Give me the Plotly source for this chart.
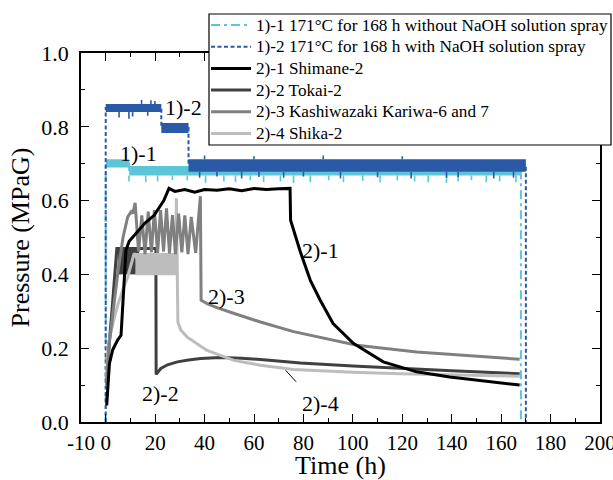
import plotly.graph_objects as go

FONT = "Liberation Serif"

# ---------------- data ----------------
# 1)-1 171°C for 168 h without NaOH solution spray (cyan, dash-dot)
t_11 = [0, 0, 9.5, 9.5, 168, 168]
p_11 = [0, 0.700, 0.700, 0.680, 0.680, 0]
band11_t = [0, 9.5, 9.5, 168]
band11_hi = [0.712, 0.712, 0.694, 0.694]
band11_lo = [0.690, 0.690, 0.668, 0.668]
spk11_t = [9.4, 16.2, 21, 27, 33, 40.4, 47.8, 52.5, 58.5, 63.9, 70.7, 76, 82.8, 90.2, 96.2,
           104, 111, 118, 125, 130.5, 137.9, 142.6, 148, 154, 159.4, 166]
spk11_tip = [0.652, 0.650, 0.652, 0.656, 0.655, 0.648, 0.652, 0.650, 0.655, 0.650, 0.652, 0.648, 0.650,
             0.655, 0.650, 0.653, 0.650, 0.655, 0.652, 0.650, 0.648, 0.652, 0.655, 0.650, 0.652, 0.650]

# 1)-2 171°C for 168 h with NaOH solution spray (blue, dashed)
t_12 = [0, 0, 22.5, 22.5, 33.5, 33.5, 170, 170]
p_12 = [0, 0.851, 0.851, 0.797, 0.797, 0.695, 0.695, 0]
band12_t = [0, 22.5, 22.5, 33.5, 33.5, 170]
band12_hi = [0.862, 0.862, 0.810, 0.810, 0.712, 0.712]
band12_lo = [0.840, 0.840, 0.783, 0.783, 0.678, 0.678]
spk12_t = [5.4, 9.4, 10.9, 17, 14.5, 18.3, 19.9,
           38, 45, 55, 62, 72, 80, 95, 110, 123.6, 137.9, 142.6, 157, 165, 40, 60, 88, 120]
spk12_from = [0.840, 0.840, 0.840, 0.840, 0.862, 0.862, 0.862,
              0.678, 0.678, 0.678, 0.678, 0.678, 0.678, 0.678, 0.678, 0.678, 0.678, 0.678, 0.678, 0.678,
              0.712, 0.712, 0.712, 0.712]
spk12_tip = [0.825, 0.822, 0.828, 0.830, 0.873, 0.872, 0.870,
             0.662, 0.665, 0.660, 0.664, 0.662, 0.665, 0.660, 0.663, 0.660, 0.662, 0.664, 0.660, 0.662,
             0.722, 0.720, 0.722, 0.720]

# 2)-1 Shimane-2 (black)
t_21 = [0.4, 1.5, 2.8, 4.8, 6.2, 6.9, 8.2, 9.5, 11.5, 13.5, 16, 19.6, 21, 23.5, 25.6, 28, 32, 36, 40,
        45, 50, 55, 60, 65, 70, 74.6, 74.8, 76, 78.8, 82.8, 86.8, 92, 100.2, 112.3, 125.8, 139.2,
        152.7, 167.5]
p_21 = [0.045, 0.158, 0.195, 0.222, 0.235, 0.312, 0.466, 0.490, 0.505, 0.520, 0.540, 0.560, 0.574,
        0.600, 0.633, 0.625, 0.630, 0.623, 0.630, 0.628, 0.632, 0.627, 0.633, 0.630, 0.632, 0.633,
        0.547, 0.520, 0.460, 0.384, 0.330, 0.267, 0.213, 0.163, 0.136, 0.122, 0.111, 0.100]

# 2)-2 Tokai-2 (dark grey)
t_22 = [0.5, 1.5, 2.5, 3.5, 4.5, 13.5, 20.3, 20.4, 22.3, 25, 29, 33.5, 38.4, 46.5, 55, 65, 78.8,
        100, 119, 140, 167.5]
p_22 = [0.10, 0.22, 0.30, 0.38, 0.470, 0.470, 0.470, 0.129, 0.145, 0.155, 0.163, 0.168, 0.172,
        0.175, 0.173, 0.168, 0.160, 0.152, 0.145, 0.139, 0.131]
band22_t = [4.8, 13.5]
band22_hi = [0.470, 0.470]
band22_lo = [0.400, 0.400]

# 2)-3 Kashiwazaki Kariwa-6 and 7 (mid grey)
t_23 = [0.3, 1.2, 3, 5, 7, 8.9, 10.3, 11, 11.9, 13.3, 14.6, 15.9, 17.2, 18.5, 19.7, 21, 22.2,
        23.4, 24.6, 25.8, 27.0, 28.2, 29.5, 30.8, 32.0, 33.3, 34.6, 36.4, 38.3, 38.6, 41, 45, 52,
        62.6, 76, 86.8, 101.6, 125.8, 167.5]
p_23 = [0.10, 0.20, 0.30, 0.41, 0.50, 0.556, 0.570, 0.565, 0.594, 0.462, 0.560, 0.455, 0.570,
        0.460, 0.574, 0.458, 0.574, 0.462, 0.579, 0.457, 0.561, 0.455, 0.565, 0.460, 0.560, 0.455,
        0.556, 0.458, 0.612, 0.330, 0.321, 0.310, 0.294, 0.271, 0.245, 0.229, 0.208, 0.190, 0.170]

# 2)-4 Shika-2 (light grey)
t_24 = [0.3, 1, 3, 5, 7, 8.9, 11.5, 13, 28.3, 28.6, 29.2, 30.4, 33, 41, 51.9, 62.6, 76, 86.8, 100,
        119, 140, 167.5]
p_24 = [0.12, 0.21, 0.27, 0.32, 0.36, 0.393, 0.457, 0.440, 0.440, 0.606, 0.271, 0.249, 0.230,
        0.194, 0.167, 0.154, 0.142, 0.138, 0.135, 0.131, 0.128, 0.124]
band24_t = [12, 29]
band24_hi = [0.458, 0.458]
band24_lo = [0.398, 0.398]

x_ticks = [-10, 0, 20, 40, 60, 80, 100, 120, 140, 160, 180, 200]
x_minor = [10, 30, 50, 70, 90, 110, 130, 150, 170, 190]
y_ticks = [0.0, 0.2, 0.4, 0.6, 0.8, 1.0]
y_minor = [0.1, 0.3, 0.5, 0.7, 0.9]

names = ["1)-1 171°C for 168 h without NaOH solution spray",
         "1)-2 171°C for 168 h with NaOH solution spray",
         "2)-1 Shimane-2", "2)-2 Tokai-2", "2)-3 Kashiwazaki Kariwa-6 and 7", "2)-4 Shika-2"]

C_CYAN = "#5cc6d8"
C_BLUE = "#2a59a8"
C_BLACK = "#000000"
C_DARK = "#404040"
C_MID = "#808080"
C_LIGHT = "#bdbdbd"

# legend entry styles (in order of names)
leg_colors = [C_CYAN, C_BLUE, C_BLACK, C_DARK, C_MID, C_LIGHT]
leg_dash = ["9px,4px,3px,4px", "4px,2.5px", "solid", "solid", "solid", "solid"]
leg_width = [2, 2, 3, 3, 3, 3]

# ---------------- layout geometry ----------------
W, H = 613, 480
ML, MR, MT, MB = 81, 13, 53, 58
PW, PH = W - ML - MR, H - MT - MB


def px_x(px):
    return (px - ML) / PW


def px_y(py):
    return (H - MB - py) / PH


def band(tt, hi, lo, color):
    return go.Scatter(x=tt + tt[::-1], y=hi + lo[::-1], fill="toself", fillcolor=color,
                      mode="lines", line=dict(width=0, color=color), showlegend=False,
                      hoverinfo="skip")


def spikes(tt, frm, tip, color):
    xs, ys = [], []
    for a, b, c in zip(tt, frm, tip):
        xs += [a, a, None]
        ys += [b, c, None]
    return go.Scatter(x=xs, y=ys, mode="lines", line=dict(width=1.6, color=color),
                      showlegend=False, hoverinfo="skip")


fig = go.Figure()
# 1)-1
fig.add_trace(go.Scatter(x=t_11, y=p_11, mode="lines", name=names[0], showlegend=False,
                         line=dict(color=C_CYAN, width=2, dash=leg_dash[0])))
fig.add_trace(band(band11_t, band11_hi, band11_lo, C_CYAN))
fig.add_trace(spikes(spk11_t, [0.668] * len(spk11_t), spk11_tip, C_CYAN))
# 1)-2
fig.add_trace(go.Scatter(x=t_12, y=p_12, mode="lines", name=names[1], showlegend=False,
                         line=dict(color=C_BLUE, width=2, dash=leg_dash[1])))
fig.add_trace(band(band12_t, band12_hi, band12_lo, C_BLUE))
fig.add_trace(spikes(spk12_t, spk12_from, spk12_tip, C_BLUE))
# 2)-2 Tokai
fig.add_trace(go.Scatter(x=t_22, y=p_22, mode="lines", name=names[3], showlegend=False,
                         line=dict(color=C_DARK, width=3)))
fig.add_trace(band(band22_t, band22_hi, band22_lo, C_DARK))
# 2)-4 Shika
fig.add_trace(go.Scatter(x=t_24, y=p_24, mode="lines", name=names[5], showlegend=False,
                         line=dict(color=C_LIGHT, width=3)))
fig.add_trace(band(band24_t, band24_hi, band24_lo, C_LIGHT))
# 2)-3 Kashiwazaki
fig.add_trace(go.Scatter(x=t_23, y=p_23, mode="lines", name=names[4], showlegend=False,
                         line=dict(color=C_MID, width=3)))
# 2)-1 Shimane
fig.add_trace(go.Scatter(x=t_21, y=p_21, mode="lines", name=names[2], showlegend=False,
                         line=dict(color=C_BLACK, width=3)))

labels = [("1)-2", 31.6, 0.851), ("1)-1", 13.2, 0.729), ("2)-1", 86.8, 0.466),
          ("2)-3", 48.9, 0.341), ("2)-2", 22.3, 0.078), ("2)-4", 86.8, 0.051)]
for txt, lx, ly in labels:
    fig.add_annotation(x=lx, y=ly, text=txt, showarrow=False,
                       font=dict(family=FONT, size=22, color="black"))
# leader line for 2)-4
fig.add_annotation(x=72.8, y=0.140, ax=77.6, ay=0.105, axref="x", ayref="y", text="",
                   showarrow=True, arrowhead=0, arrowwidth=1, arrowcolor="black")

# ---------------- legend (box, samples, text) ----------------
LEG_L, LEG_R, LEG_T, LEG_B = 209, 611, 14, 145
ROW0, ROW_STEP = 25, 21.7
shapes = [dict(type="rect", xref="paper", yref="paper", layer="above",
               x0=px_x(LEG_L), x1=px_x(LEG_R), y0=px_y(LEG_B), y1=px_y(LEG_T),
               line=dict(color="black", width=1.2), fillcolor="white")]
for i, nm in enumerate(names):
    ry = ROW0 + i * ROW_STEP
    shapes.append(dict(type="line", xref="paper", yref="paper", layer="above",
                       x0=px_x(211), x1=px_x(251), y0=px_y(ry), y1=px_y(ry),
                       line=dict(color=leg_colors[i], width=leg_width[i], dash=leg_dash[i])))
    fig.add_annotation(xref="paper", yref="paper", x=px_x(254), y=px_y(ry), text=nm,
                       showarrow=False, xanchor="left", yanchor="middle",
                       font=dict(family=FONT, size=17.2, color="black"))

axis_common = dict(showline=True, linecolor="black", linewidth=1.6, mirror="allticks",
                   ticks="inside", ticklen=8, tickwidth=1.4, tickcolor="black",
                   showgrid=False, zeroline=False, automargin=False)

fig.update_xaxes(range=[-10, 200], tickmode="array", tickvals=x_ticks,
                 ticktext=[str(v) for v in x_ticks], ticklabeloverflow="allow",
                 tickfont=dict(family=FONT, size=21, color="black"),
                 minor=dict(tickmode="array", tickvals=x_minor, ticks="inside", ticklen=4,
                            tickwidth=1.4, tickcolor="black"),
                 title=dict(text="Time (h)", font=dict(family=FONT, size=26, color="black"),
                            standoff=4),
                 ticklabelstandoff=1, **axis_common)
fig.update_yaxes(range=[0, 1.0], tickmode="array", tickvals=y_ticks,
                 ticktext=[f"{v:.1f}" for v in y_ticks],
                 tickfont=dict(family=FONT, size=22, color="black"),
                 minor=dict(tickmode="array", tickvals=y_minor, ticks="inside", ticklen=4,
                            tickwidth=1.4, tickcolor="black"),
                 title=dict(text="Pressure (MPaG)", font=dict(family=FONT, size=26, color="black"),
                            standoff=4),
                 ticklabelstandoff=6, **axis_common)

fig.update_layout(
    width=W, height=H,
    margin=dict(l=ML, r=MR, t=MT, b=MB),
    paper_bgcolor="white", plot_bgcolor="white",
    font=dict(family=FONT, color="black"),
    showlegend=False,
    shapes=shapes,
)

fig.write_html("out.html")
